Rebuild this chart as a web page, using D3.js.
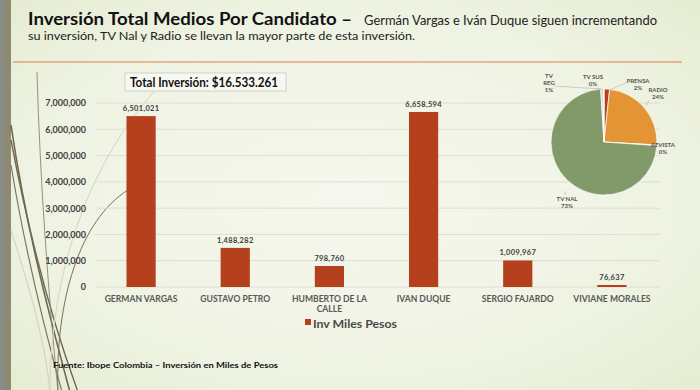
<!DOCTYPE html>
<html><head><meta charset="utf-8">
<script src="https://cdn.jsdelivr.net/npm/d3@7"></script>
<style>html,body{margin:0;padding:0;overflow:hidden;}svg{display:block;}</style>
</head><body>
<script>
// ---- data ----
const categories = ["GERMAN VARGAS","GUSTAVO PETRO","HUMBERTO DE LA CALLE","IVAN DUQUE","SERGIO FAJARDO","VIVIANE MORALES"];
const inversion = [6501021,1488282,798760,6658594,1009967,76637];
const yTicks = [0,1000000,2000000,3000000,4000000,5000000,6000000,7000000];
const seriesName = "Inv Miles Pesos";
const medios = ["PRENSA","RADIO","REVISTA","TV NAL","TV REG","TV SUS"];
const mediosPct = [1.7,24.2,0.2,72.9,0.9,0.1];
const titleBold = "Inversión Total Medios Por Candidato –";
const subtitle1 = "Germán Vargas e Iván Duque siguen incrementando";
const subtitle2 = "su inversión, TV Nal y Radio se llevan la mayor parte de esta inversión.";
const totalText = "Total Inversión: $16.533.261";
const sourceText = "Fuente: Ibope Colombia – Inversión en Miles de Pesos";

const W=700,H=390;
const font="Lato, 'Open Sans', sans-serif";
const svg=d3.select("body").append("svg").attr("width",W).attr("height",H);
const defs=svg.append("defs");
const rg=defs.append("radialGradient").attr("id","bg").attr("cx","50%").attr("cy","50%").attr("r","75%");
rg.append("stop").attr("offset","0%").attr("stop-color","#f6f7ee");
rg.append("stop").attr("offset","60%").attr("stop-color","#eff3e3");
rg.append("stop").attr("offset","100%").attr("stop-color","#e4ebcf");
svg.append("rect").attr("width",W).attr("height",H).attr("fill","url(#bg)");
// left strip
svg.append("rect").attr("x",0).attr("y",0).attr("width",3).attr("height",H).attr("fill","#878c90");
svg.append("rect").attr("x",3).attr("y",0).attr("width",8).attr("height",H).attr("fill","#8c8a70");

// decorative curves
const deco=svg.append("g").attr("fill","none");
function curve(x0,y0,c1x,c1y,c2x,c2y,x1,y1,col,w){
  const p=d3.path();p.moveTo(x0,y0);p.bezierCurveTo(c1x,c1y,c2x,c2y,x1,y1);
  deco.append("path").attr("d",p.toString()).attr("stroke",col).attr("stroke-width",w);
}
curve(11,125,25,220,45,300,70,392,"#6f6850",1.6);
curve(11,140,28,230,48,310,78,392,"#6f6850",1.4);
curve(11,165,25,250,42,320,62,392,"#7d7660",1.2);
curve(37,72,40,180,48,290,58,392,"#8a8670",0.9);
curve(58,392,55,300,80,220,128,190,"#7a7158",1.0);
curve(50,392,50,270,90,160,160,85,"#d2d4c0",1.0);
curve(11,230,30,290,45,340,50,392,"#d3d6c2",1.2);

// title
svg.append("text").attr("x",28).attr("y",25).attr("font-family",font).attr("fill","#111")
  .attr("font-weight","bold").attr("font-size",16.5)
  .attr("textLength",324).attr("lengthAdjust","spacingAndGlyphs").text(titleBold);
svg.append("text").attr("x",364).attr("y",25).attr("font-family",font).attr("font-size",12.5).attr("fill","#222")
  .attr("textLength",293).attr("lengthAdjust","spacingAndGlyphs").text(subtitle1);
svg.append("text").attr("x",28).attr("y",39.5).attr("font-family",font).attr("font-size",12).attr("fill","#222")
  .attr("textLength",387).attr("lengthAdjust","spacingAndGlyphs").text(subtitle2);
svg.append("line").attr("x1",13).attr("x2",682).attr("y1",62).attr("y2",62).attr("stroke","#e07a55").attr("stroke-width",1.2);

// scales
const x=d3.scaleBand().domain(categories).range([94,659]).paddingInner(0.69).paddingOuter(0.345);
const y=d3.scaleLinear().domain([0,7000000]).range([287,103]);

// grid
svg.append("g").selectAll("line").data(yTicks).join("line")
  .attr("x1",95).attr("x2",660).attr("y1",d=>y(d)).attr("y2",d=>y(d))
  .attr("stroke","#dcdfd0").attr("stroke-width",1);

// y axis
const yAxis=svg.append("g").attr("transform","translate(86,0)")
  .call(d3.axisLeft(y).tickValues(yTicks).tickFormat(d3.format(",")).tickSize(0).tickPadding(0));
yAxis.select(".domain").remove();
yAxis.selectAll("text").attr("font-family",font).attr("font-weight","bold").attr("font-size",9).attr("fill","#404040");

// bars
svg.append("g").selectAll("rect").data(inversion).join("rect")
  .attr("x",(d,i)=>x(categories[i])).attr("width",x.bandwidth())
  .attr("y",d=>y(d)).attr("height",d=>Math.max(2,y(0)-y(d))).attr("fill","#b5401d");
svg.append("g").selectAll("text").data(inversion).join("text")
  .attr("x",(d,i)=>x(categories[i])+x.bandwidth()/2).attr("y",d=>y(d)-5)
  .attr("text-anchor","middle").attr("font-family",font).attr("font-weight","bold").attr("font-size",7.5)
  .attr("fill","#404040").attr("letter-spacing",0.3).text(d3.format(","));

// x axis labels
const xAxis=svg.append("g").attr("transform","translate(0,291)")
  .call(d3.axisBottom(x).tickSize(0).tickPadding(0));
xAxis.select(".domain").remove();
xAxis.selectAll("text").attr("font-family",font).attr("font-weight","bold").attr("font-size",8.6).attr("fill","#595959")
  .attr("dy",null).attr("y",0)
  .each(function(d){
    const el=d3.select(this); el.text(null);
    let lines=[d];
    if(d.length>16){const parts=d.split(" ");lines=[parts.slice(0,3).join(" "),parts.slice(3).join(" ")];}
    lines.forEach((l,k)=>el.append("tspan").attr("x",0).attr("y",11+k*10).text(l));
  });

// legend
svg.append("rect").attr("x",305).attr("y",319).attr("width",6).attr("height",6).attr("fill","#b5401d");
svg.append("text").attr("x",313).attr("y",327.5).attr("font-family",font).attr("font-weight","bold").attr("font-size",12)
  .attr("fill","#4a4a4a").attr("textLength",84).attr("lengthAdjust","spacingAndGlyphs").text(seriesName);

// total box
svg.append("rect").attr("x",125).attr("y",73).attr("width",161).attr("height",18).attr("fill","#f7f8f1").attr("stroke","#c8c8c0").attr("stroke-width",0.8);
svg.append("text").attr("x",130).attr("y",87).attr("font-family",font).attr("font-weight","bold").attr("font-size",13)
  .attr("fill","#111").attr("textLength",148).attr("lengthAdjust","spacingAndGlyphs").text(totalText);

// source
svg.append("text").attr("x",53).attr("y",368).attr("font-family",font).attr("font-weight","bold").attr("font-size",8)
  .attr("fill","#111").attr("textLength",225).attr("lengthAdjust","spacingAndGlyphs").text(sourceText);

// pie
const pieColors=["#b7411f","#e39536","#f0d9a0","#82996a","#dcdccc","#e8e8e0"];
const cx=604,cy=142,r=53;
const pie=d3.pie().sort(null).value(d=>d)(mediosPct);
const arc=d3.arc().innerRadius(0).outerRadius(r);
const pg=svg.append("g").attr("transform",`translate(${cx},${cy})`);
pg.selectAll("path").data(pie).join("path").attr("d",arc)
  .attr("fill",(d,i)=>pieColors[i]).attr("stroke","#ffffff").attr("stroke-width",0.7);
// pie labels
const labelPos=[[638,83],[658,92],[663,147],[567,201],[549,78],[593,79]];
const lg=svg.append("g").attr("font-family",font).attr("font-weight","bold").attr("font-size",6).attr("fill","#555").attr("text-anchor","middle");
medios.forEach((m,i)=>{
  const pct=Math.round(mediosPct[i])+"%";
  const lines = m==="TV REG" ? ["TV","REG",pct] : [m,pct];
  const tx=lg.append("text").attr("x",labelPos[i][0]).attr("y",labelPos[i][1]);
  lines.forEach((l,k)=>tx.append("tspan").attr("x",labelPos[i][0]).attr("dy",k===0?0:7).text(l));
});
// leader lines
const leaders=[[[628,82],[609,90]],[[649,100],[646,106]],[[565,195],[566,191]],[[554,86],[601,89]],[[597,88],[603,89.5]]];
svg.append("g").selectAll("polyline").data(leaders).join("polyline")
  .attr("points",d=>d.map(p=>p.join(",")).join(" ")).attr("fill","none").attr("stroke","#bdbdb0").attr("stroke-width",0.7);
</script>
</body></html>
